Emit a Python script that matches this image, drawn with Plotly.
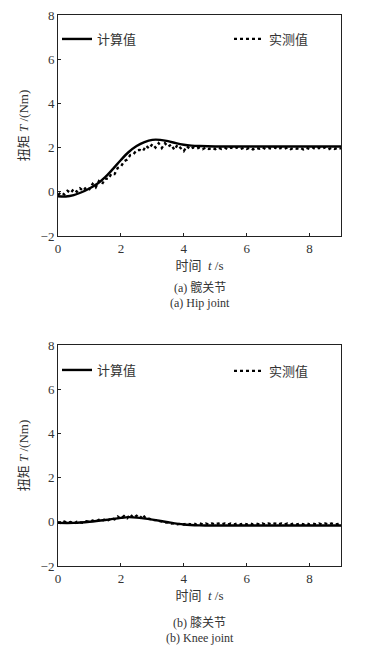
import plotly.graph_objects as go

# ---------------- data ----------------
# Hip joint: computed (solid)
hip_calc_t = [0, 0.25, 0.5, 0.75, 1.0, 1.25, 1.5, 1.75, 2.0, 2.25, 2.5, 2.75, 3.0, 3.25,
              3.5, 3.75, 4.0, 4.25, 4.5, 5.0, 6.0, 7.0, 8.0, 9.0]
hip_calc_v = [-0.20, -0.21, -0.15, -0.02, 0.15, 0.36, 0.66, 1.04, 1.44, 1.80, 2.07, 2.25,
              2.35, 2.35, 2.29, 2.20, 2.13, 2.09, 2.07, 2.05, 2.05, 2.05, 2.05, 2.05]

# Hip joint: measured (dotted), sampled every 0.1 s
hip_meas_t = [round(i * 0.1, 1) for i in range(91)]
hip_meas_v = [
    -0.14, -0.02, -0.12, 0.05, -0.05, 0.12, 0.00, 0.16, 0.04, 0.22,
    0.12, 0.36, 0.20, 0.48, 0.34, 0.60, 0.58, 0.82, 0.80, 1.08,
    1.14, 1.38, 1.46, 1.66, 1.70, 1.88, 1.90, 1.84, 2.08, 1.96,
    2.16, 2.00, 2.20, 1.98, 2.20, 2.04, 2.14, 1.90, 2.12, 1.96,
    1.84, 2.06, 1.93, 2.01, 1.95, 2.00, 1.93, 2.01, 1.94, 1.99,
    1.93, 2.00, 1.94, 1.99, 1.92, 2.00, 1.95, 2.01, 1.93, 1.99,
    1.94, 2.00, 1.92, 1.99, 1.95, 2.01, 1.93, 1.98, 1.94, 2.00,
    1.92, 1.99, 1.94, 2.01, 1.93, 1.99, 1.95, 2.00, 1.92, 1.99,
    1.94, 2.00, 1.93, 1.99, 1.95, 2.01, 1.92, 1.99, 1.94, 2.00,
    1.95,
]

# Knee joint: computed (solid)
knee_calc_t = [0, 0.5, 1.0, 1.5, 2.0, 2.25, 2.5, 3.0, 3.5, 4.0, 4.5, 5.0, 6.0, 7.0, 8.0, 9.0]
knee_calc_v = [-0.05, -0.05, 0.00, 0.08, 0.18, 0.21, 0.19, 0.10, -0.02, -0.12, -0.16,
               -0.17, -0.17, -0.17, -0.17, -0.17]

# Knee joint: measured (dotted), sampled every 0.1 s
knee_meas_t = [round(i * 0.1, 1) for i in range(91)]
knee_meas_v = [
    -0.02, -0.07, 0.01, -0.05, -0.01, -0.08, 0.00, -0.02, -0.05, 0.03,
    0.00, 0.06, 0.01, 0.09, 0.04, 0.13, 0.07, 0.17, 0.11, 0.24,
    0.14, 0.26, 0.16, 0.34, 0.18, 0.28, 0.15, 0.32, 0.13, 0.14,
    0.08, 0.08, 0.03, 0.02, -0.04, -0.03, -0.08, -0.07, -0.11, -0.09,
    -0.12, -0.07, -0.12, -0.07, -0.12, -0.07, -0.12, -0.07, -0.12, -0.07,
    -0.12, -0.07, -0.12, -0.07, -0.12, -0.07, -0.12, -0.07, -0.12, -0.07,
    -0.12, -0.07, -0.12, -0.07, -0.12, -0.07, -0.12, -0.07, -0.12, -0.07,
    -0.12, -0.07, -0.12, -0.07, -0.12, -0.07, -0.12, -0.07, -0.12, -0.07,
    -0.12, -0.07, -0.12, -0.07, -0.12, -0.07, -0.12, -0.07, -0.12, -0.10,
    -0.02,
]

x_ticks = [0, 2, 4, 6, 8]
y_ticks = [-2, 0, 2, 4, 6, 8]
calc_name = "计算值"
meas_name = "实测值"
x_title = "时间  <i>t</i> /s"
y_title = "扭矩 <i>T</i> /(Nm)"
captions = [("(a) 髋关节", "(a) Hip joint"), ("(b) 膝关节", "(b) Knee joint")]

# ---------------- figure ----------------
W, H = 369, 647
SERIF = "Liberation Serif, Times New Roman, serif"
CJK = "Noto Sans CJK SC, sans-serif"
MIX = "Liberation Serif, Noto Sans CJK SC, serif"
TXT = "#333333"

def py(px):  # pixel row -> paper y
    return 1 - px / H

fig = go.Figure()

panels = [
    (hip_calc_t, hip_calc_v, hip_meas_t, hip_meas_v, "x", "y", "legend", "legend2"),
    (knee_calc_t, knee_calc_v, knee_meas_t, knee_meas_v, "x2", "y2", "legend3", "legend4"),
]

for ct, cv, mt, mv, xa, ya, lg1, lg2 in panels:
    fig.add_trace(go.Scatter(x=mt, y=mv, mode="lines", name=meas_name, xaxis=xa, yaxis=ya,
                             line=dict(color="black", width=2.3, dash="dot"), legend=lg2))
    fig.add_trace(go.Scatter(x=ct, y=cv, mode="lines", name=calc_name, xaxis=xa, yaxis=ya,
                             line=dict(color="black", width=2.4, shape="spline"), legend=lg1))

axis_common = dict(showline=True, mirror=True, linecolor="#222222", linewidth=1,
                   ticks="inside", ticklen=3, tickcolor="#222222", showgrid=False,
                   zeroline=False, automargin=False,
                   tickfont=dict(family=SERIF, size=13, color=TXT))

x_dom = [58 / W, 341 / W]
layout = dict(width=W, height=H, margin=dict(l=0, r=0, t=0, b=0, autoexpand=False),
              paper_bgcolor="white", plot_bgcolor="white", showlegend=True)

for i, (top, bot) in enumerate([(15, 236), (345, 566)]):
    sx = "" if i == 0 else "2"
    layout["xaxis" + sx] = dict(axis_common, domain=x_dom, range=[0, 9], tickvals=x_ticks,
                                anchor="y" + sx,
                                title=dict(text=x_title, standoff=6,
                                           font=dict(family=MIX, size=13, color=TXT)))
    layout["yaxis" + sx] = dict(axis_common, domain=[py(bot), py(top)], range=[-2, 8],
                                tickvals=y_ticks, anchor="x" + sx,
                                title=dict(text=y_title, standoff=9,
                                           font=dict(family=MIX, size=13, color=TXT)))

leg_common = dict(bgcolor="rgba(0,0,0,0)", borderwidth=0, itemwidth=30,
                  font=dict(family=CJK, size=13, color=TXT), yanchor="middle",
                  tracegroupgap=0)
layout["legend"] = dict(leg_common, x=57 / W, y=py(39), xanchor="left")
layout["legend2"] = dict(leg_common, x=229 / W, y=py(39), xanchor="left")
layout["legend3"] = dict(leg_common, x=57 / W, y=py(370), xanchor="left")
layout["legend4"] = dict(leg_common, x=229 / W, y=py(371), xanchor="left")

fig.update_layout(**layout)

cap_rows = [(287, 303), (623, 638)]
for (zh, en), (r1, r2) in zip(captions, cap_rows):
    fig.add_annotation(text=zh, x=0.5 * (58 + 341) / W, y=py(r1), xref="paper", yref="paper",
                       showarrow=False, font=dict(family=MIX, size=12, color=TXT),
                       yanchor="middle")
    fig.add_annotation(text=en, x=0.5 * (58 + 341) / W, y=py(r2), xref="paper", yref="paper",
                       showarrow=False, font=dict(family=SERIF, size=12, color=TXT),
                       yanchor="middle")

fig.write_html("out.html", config={"displayModeBar": False},
               post_script="document.body.style.margin='0';document.body.style.overflow='hidden';")
